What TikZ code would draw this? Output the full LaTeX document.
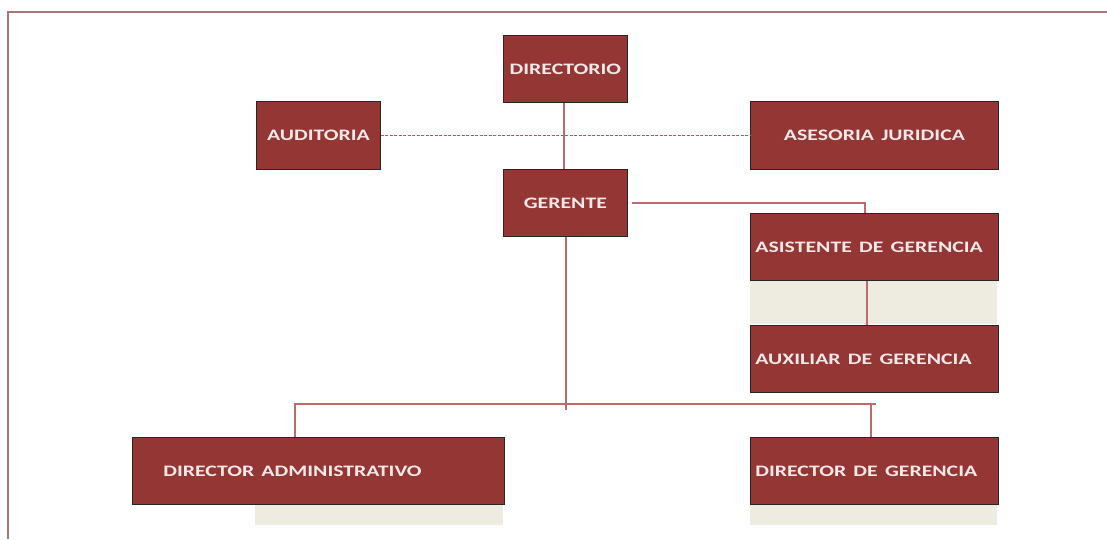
\documentclass[tikz,border=0pt]{standalone}
\usepackage{fontspec}
\setmainfont{Carlito}
\usetikzlibrary{calc}
\definecolor{boxred}{HTML}{943634}
\definecolor{txtpink}{HTML}{F7E8EA}
\definecolor{linkred}{RGB}{190,105,108}
\definecolor{dashred}{RGB}{200,80,82}
\definecolor{framec}{RGB}{168,118,122}
\definecolor{beige}{HTML}{EEEBE0}
\newcommand{\lbl}[1]{\scalebox{1.36}[1]{#1}}
\tikzset{
  orgbox/.style={draw=black!85, line width=0.8pt, fill=boxred, text=txtpink,
    font=\fontsize{16}{19}\selectfont\bfseries, inner sep=0pt, anchor=north west},
  leftbox/.style={orgbox, align=left},
  shade/.style={fill=beige, draw=none, inner sep=0pt, anchor=north west},
  link/.style={draw=linkred, line width=1.3pt},
  dlink/.style={draw=dashred, line width=1pt, dash pattern=on 3pt off 1.5pt},
  frame/.style={draw=framec, line width=1.6pt}
}
\begin{document}
\begin{tikzpicture}[x=1pt,y=-1pt]
\useasboundingbox (0,0) rectangle (1107,539);
% frame
\coordinate (fbl) at (8,539);
\coordinate (ftl) at (8,12);
\coordinate (ftr) at (1107,12);
\draw[frame] (fbl) -- (ftl) -- (ftr);
% beige shadows
\node[shade, minimum width=247, minimum height=44] (sh1) at (750,280) {};
\node[shade, minimum width=248, minimum height=21] (sh2) at (255,504) {};
\node[shade, minimum width=247, minimum height=21] (sh3) at (750,504) {};
% boxes
\node[orgbox, minimum width=124, minimum height=67] (dir) at (503,35) {\lbl{DIRECTORIO}};
\node[orgbox, minimum width=124, minimum height=68] (aud) at (256,101) {\lbl{AUDITORIA}};
\node[orgbox, minimum height=68, text width=236, align=center, inner xsep=6pt] (ase) at (750,101) {\lbl{ASESORIA JURIDICA}};
\node[orgbox, minimum width=124, minimum height=67] (ger) at (503,169) {\lbl{GERENTE}};
\node[leftbox, text width=238, inner xsep=5pt, minimum height=67] (asi) at (750,213) {\lbl{ASISTENTE DE GERENCIA}};
\node[leftbox, text width=238, inner xsep=5pt, minimum height=67] (aux) at (750,325) {\lbl{AUXILIAR DE GERENCIA}};
\node[leftbox, text width=310, inner xsep=31pt, minimum height=67] (dad) at (132,437) {\lbl{DIRECTOR ADMINISTRATIVO}};
\node[leftbox, text width=238, inner xsep=5pt, minimum height=67] (dge) at (750,437) {\lbl{DIRECTOR DE GERENCIA}};
% connectors
\draw[link] ($(dir.south)+(-1.5,0)$) -- ($(ger.north)+(-1.5,0)$);
\draw[dlink] (aud.east) -- (ase.west);
\draw[link] ($(ger.east)+(4,0)$) -| ($(asi.north west)+(115,0)$);
\draw[link] ($(asi.south west)+(117,0)$) -- ($(aux.north west)+(117,0)$);
\coordinate (busL) at (295,404);
\coordinate (busR) at (876,404);
\coordinate (gend) at (566,410);
\draw[link] (ger.south -| gend) -- (gend);
\draw[link] ($(dad.north west)+(163,0)$) |- (busR);
\draw[link] ($(dge.north west)+(121,0)$) -- ($(dge.north west)+(121,-33)$);
\end{tikzpicture}
\end{document}
